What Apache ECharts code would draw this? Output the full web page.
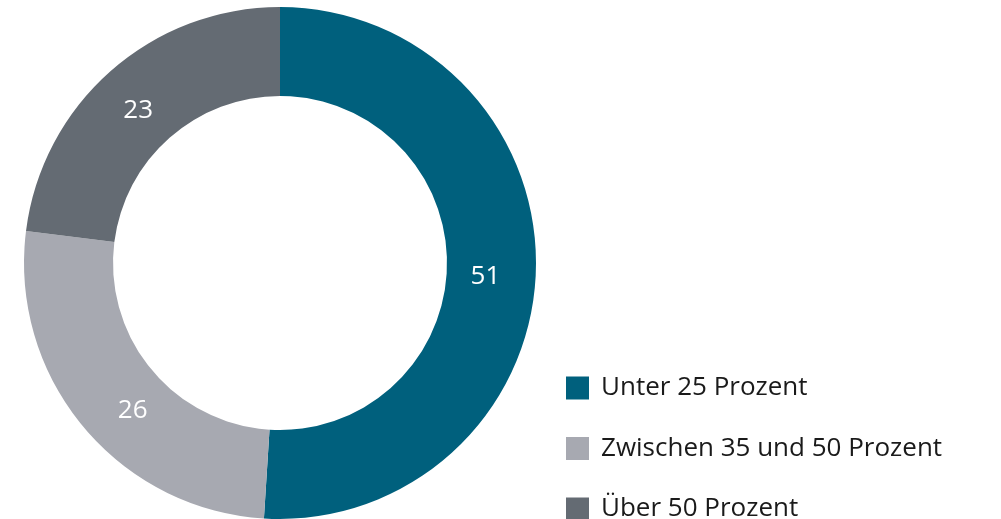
<!DOCTYPE html>
<html>
<head>
<meta charset="utf-8">
<script src="https://cdn.jsdelivr.net/npm/echarts@6/dist/echarts.min.js"></script>
<style>
  html, body { margin: 0; padding: 0; background: #fff; }
  #chart { width: 1001px; height: 519px; }
</style>
</head>
<body>
<div id="chart"></div>
<script>
// data
var categories = ["Unter 25 Prozent", "Zwischen 35 und 50 Prozent", "Über 50 Prozent"];
var values = [51, 26, 23];
var colors = ["#00607d", "#a7a9b1", "#646b73"];

var myChart = echarts.init(document.getElementById("chart"));

// small nudges so the numbers sit where they are in the original
var labelNudge = [[-9, 7], [18, 11], [0, 8]];

var option = {
  animation: false,
  textStyle: { fontFamily: "Open Sans" },
  legend: {
    orient: "vertical",
    left: 566,
    top: 375,
    height: 200,
    padding: 0,
    itemWidth: 23,
    itemHeight: 23,
    itemGap: 34.5,
    icon: "rect",
    selectedMode: false,
    data: categories,
    textStyle: {
      fontSize: 26,
      color: "#1a1a1a",
      lineHeight: 23,
      padding: [0, 0, 0, 7]
    }
  },
  series: [
    {
      type: "pie",
      center: [280, 263],
      radius: [167, 256],
      startAngle: 90,
      clockwise: true,
      avoidLabelOverlap: false,
      label: {
        show: true,
        position: "inside",
        formatter: "{c}",
        color: "#fff",
        fontSize: 26,
        fontFamily: "Open Sans"
      },
      labelLine: { show: false },
      emphasis: { disabled: true },
      data: categories.map(function (name, i) {
        return {
          name: name,
          value: values[i],
          itemStyle: { color: colors[i] },
          label: { offset: labelNudge[i] }
        };
      })
    }
  ]
};

myChart.setOption(option);
</script>
</body>
</html>
